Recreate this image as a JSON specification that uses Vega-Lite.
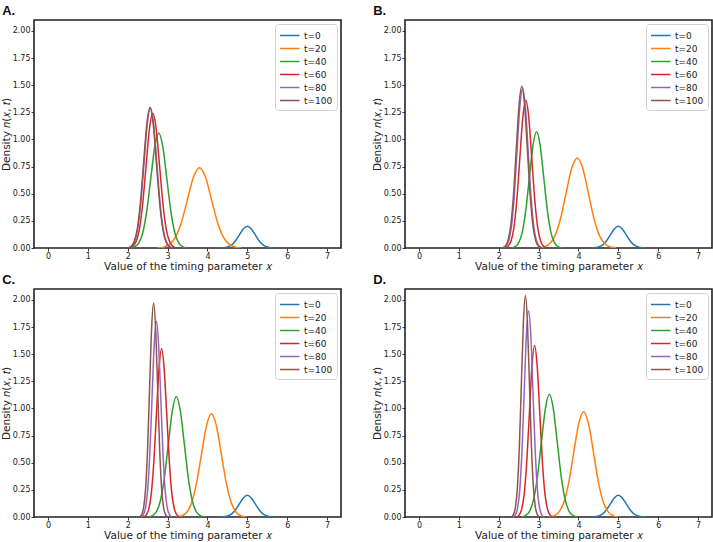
{
  "$schema": "https://vega.github.io/schema/vega-lite/v6.json",
  "background": "white",
  "padding": {"left": 0, "top": 4, "right": 0, "bottom": 0},
  "columns": 2,
  "spacing": {"row": 0, "column": 29},
  "resolve": {"scale": {"color": "independent"}},
  "config": {
    "view": {"stroke": "#222222", "strokeWidth": 1.6},
    "axis": {"grid": false, "domain": false, "tickColor": "#222222", "tickSize": 3, "tickWidth": 0.9, "labelFont": "DejaVu Sans", "labelFontSize": 8, "labelColor": "#222222", "labelPadding": 1, "titleFont": "DejaVu Sans", "titleFontSize": 10.5, "titleFontWeight": "normal", "titleColor": "#222222"},
    "axisX": {"titlePadding": 1},
    "axisY": {"titlePadding": 1},
    "legend": {"orient": "top-right", "offset": 4, "strokeColor": "#d0d0d0", "fillColor": "white", "padding": 4, "cornerRadius": 3, "symbolType": "M-1,0H2", "symbolSize": 169, "symbolStrokeWidth": 1.5, "symbolFillColor": "transparent", "labelFont": "DejaVu Sans", "labelFontSize": 9, "labelColor": "#222222", "rowPadding": 0, "labelOffset": 10, "title": null},
    "title": {"anchor": "start", "frame": "bounds", "font": "Liberation Sans", "fontSize": 13, "fontWeight": "bold", "color": "#111111", "offset": 2, "dx": 1}
  },
  "datasets": {
    "A": [
      {"t":"t=0","x":4.3,"y":0},{"t":"t=0","x":4.4,"y":0.002},{"t":"t=0","x":4.5,"y":0.009},{"t":"t=0","x":4.6,"y":0.027},{"t":"t=0","x":4.7,"y":0.065},{"t":"t=0","x":4.8,"y":0.121},{"t":"t=0","x":4.9,"y":0.176},{"t":"t=0","x":5.0,"y":0.2},{"t":"t=0","x":5.1,"y":0.176},{"t":"t=0","x":5.2,"y":0.121},{"t":"t=0","x":5.3,"y":0.065},{"t":"t=0","x":5.4,"y":0.027},{"t":"t=0","x":5.5,"y":0.009},{"t":"t=0","x":5.6,"y":0.002},{"t":"t=0","x":5.7,"y":0},
      {"t":"t=20","x":2.75,"y":0},{"t":"t=20","x":2.9,"y":0.008},{"t":"t=20","x":3.05,"y":0.033},{"t":"t=20","x":3.2,"y":0.1},{"t":"t=20","x":3.35,"y":0.24},{"t":"t=20","x":3.5,"y":0.449},{"t":"t=20","x":3.65,"y":0.653},{"t":"t=20","x":3.8,"y":0.74},{"t":"t=20","x":3.95,"y":0.653},{"t":"t=20","x":4.1,"y":0.449},{"t":"t=20","x":4.25,"y":0.24},{"t":"t=20","x":4.4,"y":0.1},{"t":"t=20","x":4.55,"y":0.033},{"t":"t=20","x":4.7,"y":0.008},{"t":"t=20","x":4.85,"y":0},
      {"t":"t=40","x":2.08,"y":0},{"t":"t=40","x":2.18,"y":0.012},{"t":"t=40","x":2.28,"y":0.047},{"t":"t=40","x":2.38,"y":0.143},{"t":"t=40","x":2.48,"y":0.345},{"t":"t=40","x":2.58,"y":0.643},{"t":"t=40","x":2.68,"y":0.935},{"t":"t=40","x":2.78,"y":1.06},{"t":"t=40","x":2.88,"y":0.935},{"t":"t=40","x":2.98,"y":0.643},{"t":"t=40","x":3.08,"y":0.345},{"t":"t=40","x":3.18,"y":0.143},{"t":"t=40","x":3.28,"y":0.047},{"t":"t=40","x":3.38,"y":0.012},{"t":"t=40","x":3.48,"y":0},
      {"t":"t=60","x":2.035,"y":0},{"t":"t=60","x":2.12,"y":0.014},{"t":"t=60","x":2.205,"y":0.055},{"t":"t=60","x":2.29,"y":0.167},{"t":"t=60","x":2.375,"y":0.403},{"t":"t=60","x":2.46,"y":0.753},{"t":"t=60","x":2.545,"y":1.094},{"t":"t=60","x":2.63,"y":1.24},{"t":"t=60","x":2.715,"y":1.094},{"t":"t=60","x":2.8,"y":0.753},{"t":"t=60","x":2.885,"y":0.403},{"t":"t=60","x":2.97,"y":0.167},{"t":"t=60","x":3.055,"y":0.055},{"t":"t=60","x":3.14,"y":0.014},{"t":"t=60","x":3.225,"y":0},
      {"t":"t=80","x":2.01,"y":0},{"t":"t=80","x":2.09,"y":0.014},{"t":"t=80","x":2.17,"y":0.057},{"t":"t=80","x":2.25,"y":0.174},{"t":"t=80","x":2.33,"y":0.419},{"t":"t=80","x":2.41,"y":0.783},{"t":"t=80","x":2.49,"y":1.138},{"t":"t=80","x":2.57,"y":1.29},{"t":"t=80","x":2.65,"y":1.138},{"t":"t=80","x":2.73,"y":0.783},{"t":"t=80","x":2.81,"y":0.419},{"t":"t=80","x":2.89,"y":0.174},{"t":"t=80","x":2.97,"y":0.057},{"t":"t=80","x":3.05,"y":0.014},{"t":"t=80","x":3.13,"y":0},
      {"t":"t=100","x":2.0,"y":0},{"t":"t=100","x":2.08,"y":0.014},{"t":"t=100","x":2.16,"y":0.057},{"t":"t=100","x":2.24,"y":0.175},{"t":"t=100","x":2.32,"y":0.421},{"t":"t=100","x":2.4,"y":0.786},{"t":"t=100","x":2.48,"y":1.142},{"t":"t=100","x":2.56,"y":1.295},{"t":"t=100","x":2.64,"y":1.142},{"t":"t=100","x":2.72,"y":0.786},{"t":"t=100","x":2.8,"y":0.421},{"t":"t=100","x":2.88,"y":0.175},{"t":"t=100","x":2.96,"y":0.057},{"t":"t=100","x":3.04,"y":0.014},{"t":"t=100","x":3.12,"y":0}
    ],
    "B": [
      {"t":"t=0","x":4.3,"y":0},{"t":"t=0","x":4.4,"y":0.002},{"t":"t=0","x":4.5,"y":0.009},{"t":"t=0","x":4.6,"y":0.027},{"t":"t=0","x":4.7,"y":0.065},{"t":"t=0","x":4.8,"y":0.121},{"t":"t=0","x":4.9,"y":0.176},{"t":"t=0","x":5.0,"y":0.2},{"t":"t=0","x":5.1,"y":0.176},{"t":"t=0","x":5.2,"y":0.121},{"t":"t=0","x":5.3,"y":0.065},{"t":"t=0","x":5.4,"y":0.027},{"t":"t=0","x":5.5,"y":0.009},{"t":"t=0","x":5.6,"y":0.002},{"t":"t=0","x":5.7,"y":0},
      {"t":"t=20","x":2.99,"y":0},{"t":"t=20","x":3.13,"y":0.009},{"t":"t=20","x":3.27,"y":0.037},{"t":"t=20","x":3.41,"y":0.112},{"t":"t=20","x":3.55,"y":0.27},{"t":"t=20","x":3.69,"y":0.504},{"t":"t=20","x":3.83,"y":0.732},{"t":"t=20","x":3.97,"y":0.83},{"t":"t=20","x":4.11,"y":0.732},{"t":"t=20","x":4.25,"y":0.504},{"t":"t=20","x":4.39,"y":0.27},{"t":"t=20","x":4.53,"y":0.112},{"t":"t=20","x":4.67,"y":0.037},{"t":"t=20","x":4.81,"y":0.009},{"t":"t=20","x":4.95,"y":0},
      {"t":"t=40","x":2.32,"y":0},{"t":"t=40","x":2.41,"y":0.012},{"t":"t=40","x":2.5,"y":0.047},{"t":"t=40","x":2.59,"y":0.144},{"t":"t=40","x":2.68,"y":0.348},{"t":"t=40","x":2.77,"y":0.649},{"t":"t=40","x":2.86,"y":0.944},{"t":"t=40","x":2.95,"y":1.07},{"t":"t=40","x":3.04,"y":0.944},{"t":"t=40","x":3.13,"y":0.649},{"t":"t=40","x":3.22,"y":0.348},{"t":"t=40","x":3.31,"y":0.144},{"t":"t=40","x":3.4,"y":0.047},{"t":"t=40","x":3.49,"y":0.012},{"t":"t=40","x":3.58,"y":0},
      {"t":"t=60","x":2.155,"y":0},{"t":"t=60","x":2.23,"y":0.015},{"t":"t=60","x":2.305,"y":0.06},{"t":"t=60","x":2.38,"y":0.184},{"t":"t=60","x":2.455,"y":0.442},{"t":"t=60","x":2.53,"y":0.826},{"t":"t=60","x":2.605,"y":1.2},{"t":"t=60","x":2.68,"y":1.36},{"t":"t=60","x":2.755,"y":1.2},{"t":"t=60","x":2.83,"y":0.826},{"t":"t=60","x":2.905,"y":0.442},{"t":"t=60","x":2.98,"y":0.184},{"t":"t=60","x":3.055,"y":0.06},{"t":"t=60","x":3.13,"y":0.015},{"t":"t=60","x":3.205,"y":0},
      {"t":"t=80","x":2.11,"y":0},{"t":"t=80","x":2.18,"y":0.016},{"t":"t=80","x":2.25,"y":0.065},{"t":"t=80","x":2.32,"y":0.198},{"t":"t=80","x":2.39,"y":0.478},{"t":"t=80","x":2.46,"y":0.892},{"t":"t=80","x":2.53,"y":1.297},{"t":"t=80","x":2.6,"y":1.47},{"t":"t=80","x":2.67,"y":1.297},{"t":"t=80","x":2.74,"y":0.892},{"t":"t=80","x":2.81,"y":0.478},{"t":"t=80","x":2.88,"y":0.198},{"t":"t=80","x":2.95,"y":0.065},{"t":"t=80","x":3.02,"y":0.016},{"t":"t=80","x":3.09,"y":0},
      {"t":"t=100","x":2.09,"y":0},{"t":"t=100","x":2.16,"y":0.016},{"t":"t=100","x":2.23,"y":0.066},{"t":"t=100","x":2.3,"y":0.201},{"t":"t=100","x":2.37,"y":0.484},{"t":"t=100","x":2.44,"y":0.904},{"t":"t=100","x":2.51,"y":1.314},{"t":"t=100","x":2.58,"y":1.49},{"t":"t=100","x":2.65,"y":1.314},{"t":"t=100","x":2.72,"y":0.904},{"t":"t=100","x":2.79,"y":0.484},{"t":"t=100","x":2.86,"y":0.201},{"t":"t=100","x":2.93,"y":0.066},{"t":"t=100","x":3.0,"y":0.016},{"t":"t=100","x":3.07,"y":0}
    ],
    "C": [
      {"t":"t=0","x":4.3,"y":0},{"t":"t=0","x":4.4,"y":0.002},{"t":"t=0","x":4.5,"y":0.009},{"t":"t=0","x":4.6,"y":0.027},{"t":"t=0","x":4.7,"y":0.065},{"t":"t=0","x":4.8,"y":0.121},{"t":"t=0","x":4.9,"y":0.176},{"t":"t=0","x":5.0,"y":0.2},{"t":"t=0","x":5.1,"y":0.176},{"t":"t=0","x":5.2,"y":0.121},{"t":"t=0","x":5.3,"y":0.065},{"t":"t=0","x":5.4,"y":0.027},{"t":"t=0","x":5.5,"y":0.009},{"t":"t=0","x":5.6,"y":0.002},{"t":"t=0","x":5.7,"y":0},
      {"t":"t=20","x":3.225,"y":0},{"t":"t=20","x":3.35,"y":0.01},{"t":"t=20","x":3.475,"y":0.042},{"t":"t=20","x":3.6,"y":0.128},{"t":"t=20","x":3.725,"y":0.309},{"t":"t=20","x":3.85,"y":0.577},{"t":"t=20","x":3.975,"y":0.838},{"t":"t=20","x":4.1,"y":0.95},{"t":"t=20","x":4.225,"y":0.838},{"t":"t=20","x":4.35,"y":0.577},{"t":"t=20","x":4.475,"y":0.309},{"t":"t=20","x":4.6,"y":0.128},{"t":"t=20","x":4.725,"y":0.042},{"t":"t=20","x":4.85,"y":0.01},{"t":"t=20","x":4.975,"y":0},
      {"t":"t=40","x":2.52,"y":0},{"t":"t=40","x":2.62,"y":0.012},{"t":"t=40","x":2.72,"y":0.049},{"t":"t=40","x":2.82,"y":0.15},{"t":"t=40","x":2.92,"y":0.361},{"t":"t=40","x":3.02,"y":0.674},{"t":"t=40","x":3.12,"y":0.979},{"t":"t=40","x":3.22,"y":1.11},{"t":"t=40","x":3.32,"y":0.979},{"t":"t=40","x":3.42,"y":0.674},{"t":"t=40","x":3.52,"y":0.361},{"t":"t=40","x":3.62,"y":0.15},{"t":"t=40","x":3.72,"y":0.049},{"t":"t=40","x":3.82,"y":0.012},{"t":"t=40","x":3.92,"y":0},
      {"t":"t=60","x":2.395,"y":0},{"t":"t=60","x":2.46,"y":0.017},{"t":"t=60","x":2.525,"y":0.068},{"t":"t=60","x":2.59,"y":0.209},{"t":"t=60","x":2.655,"y":0.504},{"t":"t=60","x":2.72,"y":0.941},{"t":"t=60","x":2.785,"y":1.367},{"t":"t=60","x":2.85,"y":1.55},{"t":"t=60","x":2.915,"y":1.367},{"t":"t=60","x":2.98,"y":0.941},{"t":"t=60","x":3.045,"y":0.504},{"t":"t=60","x":3.11,"y":0.209},{"t":"t=60","x":3.175,"y":0.068},{"t":"t=60","x":3.24,"y":0.017},{"t":"t=60","x":3.305,"y":0},
      {"t":"t=80","x":2.335,"y":0},{"t":"t=80","x":2.39,"y":0.02},{"t":"t=80","x":2.445,"y":0.079},{"t":"t=80","x":2.5,"y":0.243},{"t":"t=80","x":2.555,"y":0.585},{"t":"t=80","x":2.61,"y":1.093},{"t":"t=80","x":2.665,"y":1.588},{"t":"t=80","x":2.72,"y":1.8},{"t":"t=80","x":2.775,"y":1.588},{"t":"t=80","x":2.83,"y":1.093},{"t":"t=80","x":2.885,"y":0.585},{"t":"t=80","x":2.94,"y":0.243},{"t":"t=80","x":2.995,"y":0.079},{"t":"t=80","x":3.05,"y":0.02},{"t":"t=80","x":3.105,"y":0},
      {"t":"t=100","x":2.3,"y":0},{"t":"t=100","x":2.35,"y":0.022},{"t":"t=100","x":2.4,"y":0.087},{"t":"t=100","x":2.45,"y":0.266},{"t":"t=100","x":2.5,"y":0.64},{"t":"t=100","x":2.55,"y":1.196},{"t":"t=100","x":2.6,"y":1.738},{"t":"t=100","x":2.65,"y":1.97},{"t":"t=100","x":2.7,"y":1.738},{"t":"t=100","x":2.75,"y":1.196},{"t":"t=100","x":2.8,"y":0.64},{"t":"t=100","x":2.85,"y":0.266},{"t":"t=100","x":2.9,"y":0.087},{"t":"t=100","x":2.95,"y":0.022},{"t":"t=100","x":3.0,"y":0}
    ],
    "D": [
      {"t":"t=0","x":4.3,"y":0},{"t":"t=0","x":4.4,"y":0.002},{"t":"t=0","x":4.5,"y":0.009},{"t":"t=0","x":4.6,"y":0.027},{"t":"t=0","x":4.7,"y":0.065},{"t":"t=0","x":4.8,"y":0.121},{"t":"t=0","x":4.9,"y":0.176},{"t":"t=0","x":5.0,"y":0.2},{"t":"t=0","x":5.1,"y":0.176},{"t":"t=0","x":5.2,"y":0.121},{"t":"t=0","x":5.3,"y":0.065},{"t":"t=0","x":5.4,"y":0.027},{"t":"t=0","x":5.5,"y":0.009},{"t":"t=0","x":5.6,"y":0.002},{"t":"t=0","x":5.7,"y":0},
      {"t":"t=20","x":3.255,"y":0},{"t":"t=20","x":3.38,"y":0.011},{"t":"t=20","x":3.505,"y":0.043},{"t":"t=20","x":3.63,"y":0.131},{"t":"t=20","x":3.755,"y":0.315},{"t":"t=20","x":3.88,"y":0.589},{"t":"t=20","x":4.005,"y":0.856},{"t":"t=20","x":4.13,"y":0.97},{"t":"t=20","x":4.255,"y":0.856},{"t":"t=20","x":4.38,"y":0.589},{"t":"t=20","x":4.505,"y":0.315},{"t":"t=20","x":4.63,"y":0.131},{"t":"t=20","x":4.755,"y":0.043},{"t":"t=20","x":4.88,"y":0.011},{"t":"t=20","x":5.005,"y":0},
      {"t":"t=40","x":2.57,"y":0},{"t":"t=40","x":2.67,"y":0.012},{"t":"t=40","x":2.77,"y":0.05},{"t":"t=40","x":2.87,"y":0.153},{"t":"t=40","x":2.97,"y":0.367},{"t":"t=40","x":3.07,"y":0.686},{"t":"t=40","x":3.17,"y":0.997},{"t":"t=40","x":3.27,"y":1.13},{"t":"t=40","x":3.37,"y":0.997},{"t":"t=40","x":3.47,"y":0.686},{"t":"t=40","x":3.57,"y":0.367},{"t":"t=40","x":3.67,"y":0.153},{"t":"t=40","x":3.77,"y":0.05},{"t":"t=40","x":3.87,"y":0.012},{"t":"t=40","x":3.97,"y":0},
      {"t":"t=60","x":2.445,"y":0},{"t":"t=60","x":2.51,"y":0.017},{"t":"t=60","x":2.575,"y":0.07},{"t":"t=60","x":2.64,"y":0.213},{"t":"t=60","x":2.705,"y":0.514},{"t":"t=60","x":2.77,"y":0.959},{"t":"t=60","x":2.835,"y":1.394},{"t":"t=60","x":2.9,"y":1.58},{"t":"t=60","x":2.965,"y":1.394},{"t":"t=60","x":3.03,"y":0.959},{"t":"t=60","x":3.095,"y":0.514},{"t":"t=60","x":3.16,"y":0.213},{"t":"t=60","x":3.225,"y":0.07},{"t":"t=60","x":3.29,"y":0.017},{"t":"t=60","x":3.355,"y":0},
      {"t":"t=80","x":2.365,"y":0},{"t":"t=80","x":2.42,"y":0.021},{"t":"t=80","x":2.475,"y":0.084},{"t":"t=80","x":2.53,"y":0.257},{"t":"t=80","x":2.585,"y":0.618},{"t":"t=80","x":2.64,"y":1.153},{"t":"t=80","x":2.695,"y":1.676},{"t":"t=80","x":2.75,"y":1.9},{"t":"t=80","x":2.805,"y":1.676},{"t":"t=80","x":2.86,"y":1.153},{"t":"t=80","x":2.915,"y":0.618},{"t":"t=80","x":2.97,"y":0.257},{"t":"t=80","x":3.025,"y":0.084},{"t":"t=80","x":3.08,"y":0.021},{"t":"t=80","x":3.135,"y":0},
      {"t":"t=100","x":2.32,"y":0},{"t":"t=100","x":2.37,"y":0.022},{"t":"t=100","x":2.42,"y":0.09},{"t":"t=100","x":2.47,"y":0.275},{"t":"t=100","x":2.52,"y":0.663},{"t":"t=100","x":2.57,"y":1.238},{"t":"t=100","x":2.62,"y":1.8},{"t":"t=100","x":2.67,"y":2.04},{"t":"t=100","x":2.72,"y":1.8},{"t":"t=100","x":2.77,"y":1.238},{"t":"t=100","x":2.82,"y":0.663},{"t":"t=100","x":2.87,"y":0.275},{"t":"t=100","x":2.92,"y":0.09},{"t":"t=100","x":2.97,"y":0.022},{"t":"t=100","x":3.02,"y":0}
    ]
  },
  "concat": [
    {
      "title": "A.",
      "width": 307, "height": 228,
      "data": {"name": "A"},
      "mark": {"type": "line", "strokeWidth": 1.5, "interpolate": "monotone", "clip": true},
      "encoding": {
        "x": {"field": "x", "type": "quantitative", "scale": {"domain": [-0.35, 7.35], "nice": false, "zero": false}, "axis": {"values": [0,1,2,3,4,5,6,7], "title": "Value of the timing parameter 𝑥"}},
        "y": {"field": "y", "type": "quantitative", "scale": {"domain": [0, 2.1], "nice": false}, "axis": {"values": [0,0.25,0.5,0.75,1,1.25,1.5,1.75,2], "format": ".2f", "title": "Density 𝑛(𝑥, 𝑡)"}},
        "color": {"field": "t", "type": "nominal", "scale": {"domain": ["t=0","t=20","t=40","t=60","t=80","t=100"], "range": ["#1f77b4","#ff7f0e","#2ca02c","#d62728","#9467bd","#8c564b"]}}
      }
    },
    {
      "title": "B.",
      "width": 307, "height": 228,
      "data": {"name": "B"},
      "mark": {"type": "line", "strokeWidth": 1.5, "interpolate": "monotone", "clip": true},
      "encoding": {
        "x": {"field": "x", "type": "quantitative", "scale": {"domain": [-0.35, 7.35], "nice": false, "zero": false}, "axis": {"values": [0,1,2,3,4,5,6,7], "title": "Value of the timing parameter 𝑥"}},
        "y": {"field": "y", "type": "quantitative", "scale": {"domain": [0, 2.1], "nice": false}, "axis": {"values": [0,0.25,0.5,0.75,1,1.25,1.5,1.75,2], "format": ".2f", "title": "Density 𝑛(𝑥, 𝑡)"}},
        "color": {"field": "t", "type": "nominal", "scale": {"domain": ["t=0","t=20","t=40","t=60","t=80","t=100"], "range": ["#1f77b4","#ff7f0e","#2ca02c","#d62728","#9467bd","#8c564b"]}}
      }
    },
    {
      "title": "C.",
      "width": 307, "height": 228,
      "data": {"name": "C"},
      "mark": {"type": "line", "strokeWidth": 1.5, "interpolate": "monotone", "clip": true},
      "encoding": {
        "x": {"field": "x", "type": "quantitative", "scale": {"domain": [-0.35, 7.35], "nice": false, "zero": false}, "axis": {"values": [0,1,2,3,4,5,6,7], "title": "Value of the timing parameter 𝑥"}},
        "y": {"field": "y", "type": "quantitative", "scale": {"domain": [0, 2.1], "nice": false}, "axis": {"values": [0,0.25,0.5,0.75,1,1.25,1.5,1.75,2], "format": ".2f", "title": "Density 𝑛(𝑥, 𝑡)"}},
        "color": {"field": "t", "type": "nominal", "scale": {"domain": ["t=0","t=20","t=40","t=60","t=80","t=100"], "range": ["#1f77b4","#ff7f0e","#2ca02c","#d62728","#9467bd","#8c564b"]}}
      }
    },
    {
      "title": "D.",
      "width": 307, "height": 228,
      "data": {"name": "D"},
      "mark": {"type": "line", "strokeWidth": 1.5, "interpolate": "monotone", "clip": true},
      "encoding": {
        "x": {"field": "x", "type": "quantitative", "scale": {"domain": [-0.35, 7.35], "nice": false, "zero": false}, "axis": {"values": [0,1,2,3,4,5,6,7], "title": "Value of the timing parameter 𝑥"}},
        "y": {"field": "y", "type": "quantitative", "scale": {"domain": [0, 2.1], "nice": false}, "axis": {"values": [0,0.25,0.5,0.75,1,1.25,1.5,1.75,2], "format": ".2f", "title": "Density 𝑛(𝑥, 𝑡)"}},
        "color": {"field": "t", "type": "nominal", "scale": {"domain": ["t=0","t=20","t=40","t=60","t=80","t=100"], "range": ["#1f77b4","#ff7f0e","#2ca02c","#d62728","#9467bd","#8c564b"]}}
      }
    }
  ]
}
